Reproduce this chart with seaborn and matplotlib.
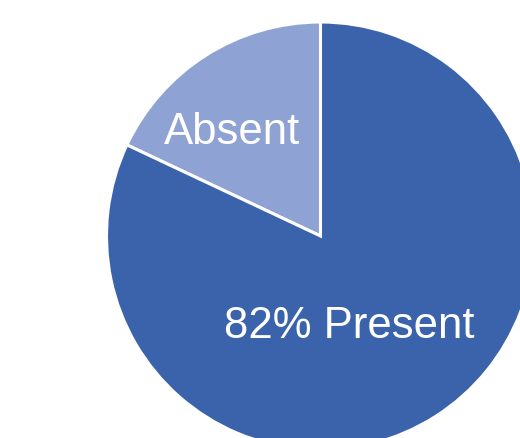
import matplotlib
matplotlib.use("Agg")
import matplotlib.pyplot as plt
import seaborn as sns

labels = ["Absent", "Present"]
values = [18, 82]
colors = ["#8EA2D4", "#3A63AB"]
label_texts = ["Absent", "82% Present"]

sns.set_theme(style="white")
plt.rcParams['font.family'] = ['Liberation Sans', 'DejaVu Sans']

fig = plt.figure(figsize=(5.2, 4.39), dpi=100)
ax = fig.add_axes([0, 0, 1, 1])
R = 214.0
cx, cy = 320.5, 237.0
wedges, _ = ax.pie(values, colors=colors, startangle=90, counterclock=True,
                   wedgeprops=dict(edgecolor="white", linewidth=2.2),
                   radius=1.0)
ax.set_xlim(-cx / R, (520 - cx) / R)
ax.set_ylim((cy - 439) / R, cy / R)
ax.set_aspect('auto')
ax.axis('off')

def px(x, y):
    return ((x - cx) / R, (cy - y) / R)

ax.text(*px(232, 133), label_texts[0], color="white", fontsize=31.5,
        ha="center", va="center")
ax.text(*px(349, 327), label_texts[1], color="white", fontsize=31.5,
        ha="center", va="center")

fig.savefig("out.png", dpi=100)
